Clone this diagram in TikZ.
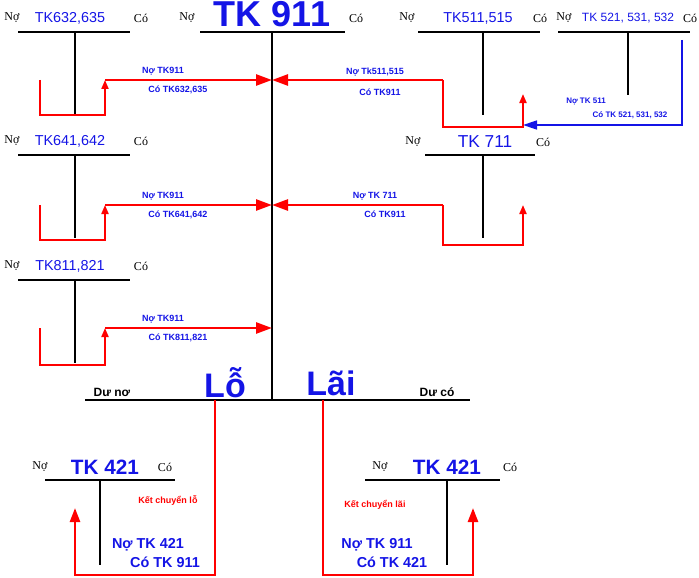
\documentclass[tikz,border=0pt]{standalone}
\usepackage{fontspec}
\setmainfont{Liberation Serif}
\newfontfamily\arial{Liberation Sans}
\usetikzlibrary{calc,arrows.meta,positioning}
\definecolor{tkblue}{RGB}{20,20,230}

\begin{document}
\begin{tikzpicture}[x=1pt,y=-1pt,
    tline/.style={line width=1.3},
    rline/.style={red,line width=1.5},
    rarrow/.style={red,line width=2.5,-{Triangle[length=16pt,width=11pt]}},
    uparrow/.style={red,line width=2,-{Triangle[length=9pt,width=7pt]}},
    tk/.style={font=\arial\Large,text=tkblue,inner sep=0},
    bigtk/.style={font=\arial\bfseries\huge,text=tkblue,inner sep=0},
    lbl/.style={font=\arial\bfseries\small,text=tkblue,inner sep=0},
    nc/.style={font=\large,inner sep=0}]
  \useasboundingbox (0,0) rectangle (699,578);

  %% main account
  \draw[tline] (200,32) -- (345,32);
  \node[font=\arial\bfseries\fontsize{36}{40}\selectfont,text=tkblue,inner sep=0] (main) at (272,14) {TK 911};
  \node[nc] at (187,18) {Nợ};
  \node[nc] at (356,18) {Có};
  \coordinate (top) at (272,32);
  \coordinate (bot) at (272,400);
  \draw[tline] (top) -- (bot);
  \draw[tline] (85,400) -- (470,400);
  \node[font=\arial\bfseries\large] (duno) at (112,392) {Dư nơ};
  \node[font=\arial\bfseries\large] (duco) at (437,392) {Dư có};
  \node[bigtk,font=\arial\bfseries\fontsize{34}{38}\selectfont] (lo) at (225,383) {Lỗ};
  \node[bigtk,font=\arial\bfseries\fontsize{34}{38}\selectfont] (lai) at (331,383) {Lãi};

  %% left accounts
  \foreach \y/\name/\nx in {32/TK632{,}635/70,155/TK641{,}642 /70,280/TK811{,}821/70}{
    \draw[tline] (18,\y) -- (130,\y);
    \node[nc] at (12,\y-14) {Nợ};
    \node[tk] at (\nx,\y-14) {\name};
    \node[nc] at (141,\y-14) {Có};
    \draw[tline] (75,\y) -- (75,\y+83);
  }
  \foreach \ya/\yb/\cred in {80/115/TK632{,}635,205/240/TK641{,}642,328/365/TK811{,}821}{
    \draw[rline] (40,\ya) -- (40,\yb) -- (105,\yb) -- (105,\ya+8);
    \draw[uparrow] (105,\ya+10) -- (105,\ya);
    \draw[rarrow] (105,\ya) -- (272,\ya);
    \node[lbl] at (163,\ya-9) {Nợ TK911};
    \node[lbl] at (178,\ya+10) {Có \cred};
  }

  %% right accounts
  \draw[tline] (418,32) -- (540,32);
  \node[nc] at (407,18) {Nợ};
  \node[tk] (tk511) at (478,18) {TK511,515};
  \node[nc] at (540,18) {Có};
  \draw[tline] (483,32) -- (483,115);

  \draw[tline] (558,32) -- (690,32);
  \node[nc] at (564,18) {Nợ};
  \node[tk,font=\arial\large] (tk521) at (628,18) {TK 521, 531, 532};
  \node[nc] at (690,18) {Có};
  \draw[tline] (628,32) -- (628,95);
  \draw[tkblue,line width=1.5,-{Triangle[length=14pt,width=9pt]}] (682,40) -- (682,125) -- (523,125);
  \node[lbl,font=\arial\bfseries\footnotesize] at (586,101) {Nợ TK 511};
  \node[lbl,font=\arial\bfseries\footnotesize] at (630,115) {Có TK 521, 531, 532};

  \draw[rline] (443,80) -- (443,127) -- (523,127) -- (523,100);
  \draw[uparrow] (523,102) -- (523,94);
  \draw[rarrow] (443,80) -- (272,80);
  \node[lbl] at (375,72) {Nợ Tk511,515};
  \node[lbl] at (380,92) {Có TK911};

  \draw[tline] (425,155) -- (535,155);
  \node[nc] at (413,142) {Nợ};
  \node[tk,font=\arial\LARGE] (tk711) at (485,142) {TK 711};
  \node[nc] at (543,142) {Có};
  \draw[tline] (483,155) -- (483,238);
  \draw[rline] (443,205) -- (443,245) -- (523,245) -- (523,212);
  \draw[uparrow] (523,214) -- (523,205);
  \draw[rarrow] (443,205) -- (272,205);
  \node[lbl] at (375,196) {Nợ TK 711};
  \node[lbl] at (385,214) {Có TK911};

  %% bottom accounts
  \draw[tline] (45,480) -- (175,480);
  \node[nc] at (40,467) {Nợ};
  \node[bigtk] (lft) at (105,467) {TK 421};
  \node[nc] at (165,467) {Có};
  \draw[tline] (100,480) -- (100,565);
  \draw[rline] (215,400) -- (215,575) -- (75,575) -- (75,520);
  \draw[uparrow,line width=2.5,-{Triangle[length=14pt,width=10pt]}] (75,524) -- (75,508);
  \node[font=\arial\bfseries\small,text=red] at (168,500) {Kết chuyển lỗ};
  \node[font=\arial\bfseries\Large,text=tkblue] at (148,545) {Nợ TK 421};
  \node[font=\arial\bfseries\Large,text=tkblue] at (165,562) {Có TK 911};

  \draw[tline] (365,480) -- (500,480);
  \node[nc] at (380,467) {Nợ};
  \node[bigtk] (rgt) at (447,467) {TK 421};
  \node[nc] at (510,467) {Có};
  \draw[tline] (447,480) -- (447,565);
  \draw[rline] (323,400) -- (323,575) -- (473,575) -- (473,520);
  \draw[uparrow,line width=2.5,-{Triangle[length=14pt,width=10pt]}] (473,524) -- (473,508);
  \node[font=\arial\bfseries\small,text=red] at (375,505) {Kết chuyển lãi};
  \node[font=\arial\bfseries\Large,text=tkblue] at (377,545) {Nợ TK 911};
  \node[font=\arial\bfseries\Large,text=tkblue] at (392,562) {Có TK 421};
\end{tikzpicture}
\end{document}
